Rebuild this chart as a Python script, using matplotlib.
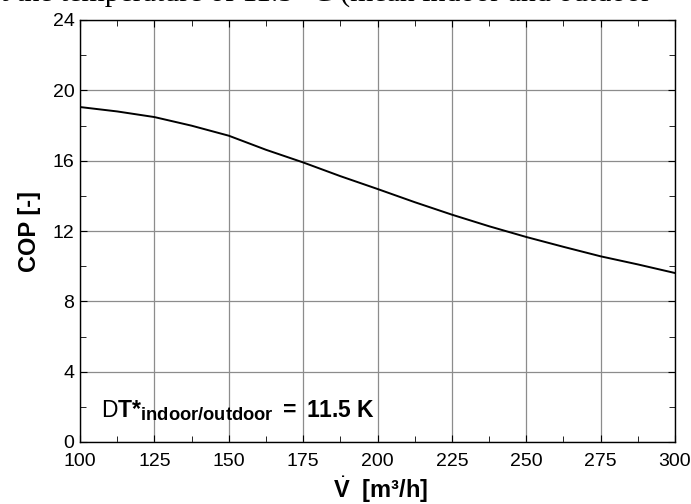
import matplotlib
matplotlib.use("Agg")
import matplotlib.pyplot as plt
from matplotlib.ticker import MultipleLocator
import matplotlib._mathtext as _mt

_mt.SHRINK_FACTOR = 0.8

plt.rcParams['font.family'] = ['Liberation Sans', 'DejaVu Sans']
plt.rcParams['mathtext.fontset'] = 'custom'
plt.rcParams['mathtext.rm'] = 'Liberation Sans'
plt.rcParams['mathtext.it'] = 'Liberation Sans:italic'
plt.rcParams['mathtext.bf'] = 'Liberation Sans:bold'

# Data
flow = [100, 112.5, 125, 137.5, 150, 162.5, 175, 187.5, 200, 212.5,
        225, 237.5, 250, 262.5, 275, 287.5, 300]
cop = [19.05, 18.8, 18.48, 17.99, 17.42, 16.62, 15.9, 15.12, 14.39, 13.64,
       12.93, 12.27, 11.66, 11.1, 10.56, 10.1, 9.61]

x_ticks = [100, 125, 150, 175, 200, 225, 250, 275, 300]
y_ticks = [0, 4, 8, 12, 16, 20, 24]

caption = "at the temperature of 11.5 °C (mean indoor and outdoor"
annotation = r'$\mathrm{D}\mathbf{T{*}_{indoor/outdoor}\ =\ 11.5\ K}$'

fig = plt.figure(figsize=(6.91, 5.04), dpi=100)
ax = fig.add_axes([80/691, 62/504, 595/691, 422/504])

ax.plot(flow, cop, color='black', lw=1.4, zorder=3)

ax.set_xlim(100, 300)
ax.set_ylim(0, 24)
ax.set_xticks(x_ticks)
ax.set_yticks(y_ticks)
ax.xaxis.set_minor_locator(MultipleLocator(12.5))
ax.yaxis.set_minor_locator(MultipleLocator(2))
ax.grid(True, which='major', color='#8c8c8c', lw=0.9, zorder=1)
ax.tick_params(which='both', direction='in', top=True, right=True, colors='black')
ax.tick_params(which='major', length=5, labelsize=14)
ax.tick_params(which='minor', length=4)
ax.tick_params(axis='x', which='major', pad=8)
ax.tick_params(axis='y', which='major', pad=4)
for s in ax.spines.values():
    s.set_linewidth(1.0)

ax.set_ylabel('COP [-]', fontsize=17, fontweight='bold', labelpad=8)
ax.set_xlabel(r'$\dot{\mathbf{V}}$  [m³/h]', fontsize=17, fontweight='bold')
ax.xaxis.set_label_coords((333 - 80) / 595, -(474 - 442) / 422)
ax.xaxis.label.set_ha('left')
ax.xaxis.label.set_va('top')

ax.text(0.036, 0.075, annotation, transform=ax.transAxes, fontsize=16.5,
        ha='left', va='center', zorder=4)

fig.text(-13/691, 1.0 - 7.5/504, caption, fontsize=21.5, family='Liberation Serif',
         ha='left', va='bottom', color='black')

fig.savefig('out.png', dpi=100)
